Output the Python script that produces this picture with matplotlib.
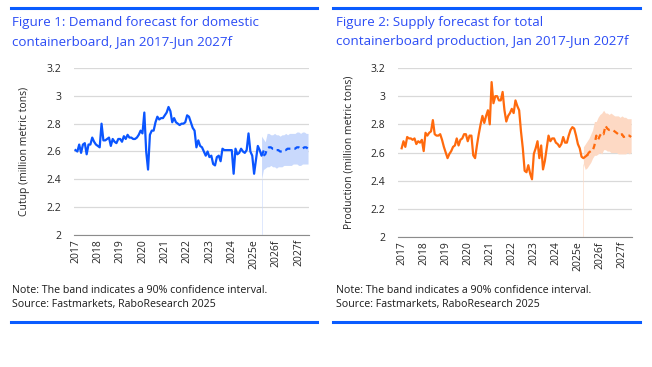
import matplotlib
matplotlib.use("Agg")
import matplotlib.pyplot as plt
import numpy as np

plt.rcParams['font.family'] = ['Open Sans', 'DejaVu Sans']

# month index 0 = Jan 2017, 125 = Jun 2027
year_labels = ['2017', '2018', '2019', '2020', '2021', '2022', '2023', '2024', '2025e', '2026f', '2027f']

# Figure 1: demand (cutup), actuals Jan 2017 - Jun 2025
cutup_actual = [
    2.61, 2.60, 2.65, 2.59, 2.65, 2.66, 2.58, 2.65, 2.65, 2.70, 2.67, 2.65,
    2.64, 2.63, 2.80, 2.68, 2.68, 2.69, 2.70, 2.64, 2.69, 2.67, 2.66, 2.69,
    2.69, 2.67, 2.71, 2.69, 2.72, 2.70, 2.70, 2.69, 2.69, 2.70, 2.72, 2.75,
    2.73, 2.88, 2.60, 2.47, 2.72, 2.75, 2.75, 2.81, 2.85, 2.83, 2.84, 2.84,
    2.86, 2.88, 2.92, 2.89, 2.81, 2.84, 2.81, 2.80, 2.79, 2.80, 2.80, 2.81,
    2.86, 2.85, 2.81, 2.77, 2.75, 2.63, 2.68, 2.64, 2.63, 2.60, 2.57, 2.60,
    2.56, 2.57, 2.51, 2.50, 2.56, 2.57, 2.53, 2.62, 2.61, 2.61, 2.61, 2.61,
    2.61, 2.44, 2.62, 2.58, 2.59, 2.62, 2.60, 2.59, 2.61, 2.73, 2.60, 2.57,
    2.44, 2.54, 2.64, 2.61, 2.57, 2.60,
]
# forecast Jun 2025 - Jun 2027
cutup_fc = [
    2.57, 2.58, 2.62, 2.63, 2.63, 2.62, 2.62, 2.61, 2.61, 2.60, 2.60, 2.61,
    2.61, 2.62, 2.62, 2.62, 2.62, 2.62, 2.63, 2.63, 2.62, 2.62, 2.63, 2.63, 2.62,
]
# 90% band, May 2025 - Jun 2027
cutup_hi = [
    2.71, 2.69, 2.67, 2.73, 2.73, 2.72, 2.72, 2.73, 2.72, 2.72, 2.71, 2.72, 2.72,
    2.73, 2.72, 2.73, 2.73, 2.73, 2.73, 2.74, 2.74, 2.73, 2.74, 2.74, 2.73, 2.73,
]
cutup_lo = [
    2.40, 2.47, 2.48, 2.49, 2.49, 2.50, 2.49, 2.49, 2.48, 2.49, 2.49, 2.49, 2.50,
    2.50, 2.50, 2.50, 2.50, 2.51, 2.51, 2.51, 2.50, 2.50, 2.51, 2.51, 2.51, 2.51,
]

# Figure 2: supply (production), actuals Jan 2017 - Jun 2025
prod_actual = [
    2.63, 2.68, 2.64, 2.71, 2.70, 2.70, 2.69, 2.70, 2.66, 2.68, 2.67, 2.69,
    2.61, 2.74, 2.72, 2.74, 2.75, 2.83, 2.73, 2.72, 2.72, 2.73, 2.69, 2.64,
    2.60, 2.56, 2.59, 2.61, 2.64, 2.65, 2.70, 2.65, 2.69, 2.70, 2.73, 2.73,
    2.68, 2.72, 2.72, 2.58, 2.56, 2.65, 2.73, 2.80, 2.86, 2.81, 2.86, 2.90,
    2.80, 3.10, 2.95, 3.00, 3.00, 2.97, 2.97, 3.03, 2.90, 2.82, 2.86, 2.88,
    2.91, 2.88, 2.97, 2.93, 2.90, 2.75, 2.63, 2.47, 2.46, 2.51, 2.45, 2.41,
    2.59, 2.63, 2.68, 2.56, 2.65, 2.48, 2.54, 2.63, 2.72, 2.68, 2.70, 2.70,
    2.67, 2.66, 2.64, 2.66, 2.71, 2.67, 2.67, 2.72, 2.76, 2.78, 2.77, 2.72,
    2.66, 2.63, 2.57, 2.56, 2.57, 2.58,
]
prod_fc = [
    2.58, 2.60, 2.61, 2.61, 2.65, 2.72, 2.69, 2.72, 2.74, 2.73, 2.79, 2.77,
    2.76, 2.76, 2.76, 2.75, 2.74, 2.73, 2.72, 2.73, 2.71, 2.72, 2.72, 2.72, 2.71,
]
prod_hi = [
    2.64, 2.66, 2.68, 2.70, 2.73, 2.76, 2.82, 2.82, 2.85, 2.87, 2.88, 2.90, 2.88, 2.88,
    2.87, 2.88, 2.87, 2.86, 2.86, 2.86, 2.85, 2.86, 2.85, 2.85, 2.84, 2.84, 2.84,
]
prod_lo = [
    2.52, 2.48, 2.49, 2.51, 2.53, 2.56, 2.58, 2.58, 2.59, 2.60, 2.59, 2.62, 2.62, 2.61,
    2.61, 2.60, 2.60, 2.60, 2.60, 2.59, 2.59, 2.59, 2.59, 2.59, 2.60, 2.59, 2.60,
]

title_col = '#2b4cf5'
rule_col = '#0a5cff'
blue = '#0a55ff'
blue_band = '#c9d9fc'
orange = '#ff6a0d'
orange_band = '#fdd9c4'


def draw(ax, actual, fc, hi, lo, line_col, band_col, ylabel, xmin):
    n_act = len(actual)
    m_act = np.arange(n_act)
    m_fc = np.arange(n_act - 1, n_act - 1 + len(fc))
    m_band = np.arange(125 - len(hi) + 1, 126)
    ax.fill_between(m_band, lo, hi, color=band_col, lw=0, zorder=1)
    # faint separator under the start of the band
    ax.vlines(m_band[0], 2, lo[0], color=band_col, lw=0.7, alpha=0.6, zorder=1)
    ax.plot(m_act, actual, color=line_col, lw=1.6, zorder=3)
    ax.plot(m_fc, fc, color=line_col, lw=1.6, ls=(0, (2.5, 1.8)), zorder=3)
    ax.set_ylim(2, 3.2)
    ax.set_yticks([2, 2.2, 2.4, 2.6, 2.8, 3, 3.2])
    ax.set_yticklabels(['2', '2.2', '2.4', '2.6', '2.8', '3', '3.2'])
    ax.set_xlim(xmin, 125.5)
    ax.set_xticks(np.arange(0, 121, 12))
    ax.set_xticklabels(year_labels, rotation=90)
    ax.grid(axis='y', color='#d9d9d9', lw=0.9)
    ax.set_axisbelow(True)
    for s in ['top', 'right', 'left']:
        ax.spines[s].set_visible(False)
    ax.spines['bottom'].set_color('#8c8c8c')
    ax.tick_params(length=0, labelsize=7.5, colors='#262626')
    ax.tick_params(axis='y', pad=9)
    ax.tick_params(axis='x', pad=3)
    ax.set_ylabel(ylabel, fontsize=7.5, color='#262626', labelpad=12)


fig = plt.figure(figsize=(6.52, 3.67), dpi=100)
ax1 = fig.add_axes([0.1135, 0.3597, 0.3604, 0.455])
ax2 = fig.add_axes([0.6104, 0.3542, 0.359, 0.4605])

draw(ax1, cutup_actual, cutup_fc, cutup_hi, cutup_lo, blue, blue_band,
     'Cutup (million metric tons)', -0.8)
draw(ax2, prod_actual, prod_fc, prod_hi, prod_lo, orange, orange_band,
     'Production (million metric tons)', -2)

W, H = 652, 367
for x0, x1, tx, title in [
    (11, 317, 12, 'Figure 1: Demand forecast for domestic\ncontainerboard, Jan 2017-Jun 2027f'),
    (333, 640, 336, 'Figure 2: Supply forecast for total\ncontainerboard production, Jan 2017-Jun 2027f'),
]:
    fig.add_artist(plt.Line2D([x0 / W, x1 / W], [1 - 8 / H, 1 - 8 / H], color=rule_col, lw=2.2))
    fig.add_artist(plt.Line2D([x0 / W, x1 / W], [1 - 322 / H, 1 - 322 / H], color=rule_col, lw=2.2))
    fig.text(tx / W, 1 - 32 / H, title, color=title_col, fontsize=9.6, va='center',
             linespacing=1.55)
    fig.text(tx / W, 1 - 297.5 / H,
             'Note: The band indicates a 90% confidence interval.\nSource: Fastmarkets, RaboResearch 2025',
             color='#1a1a1a', fontsize=7.7, va='center', linespacing=1.4)

fig.savefig('out.png', dpi=100)
